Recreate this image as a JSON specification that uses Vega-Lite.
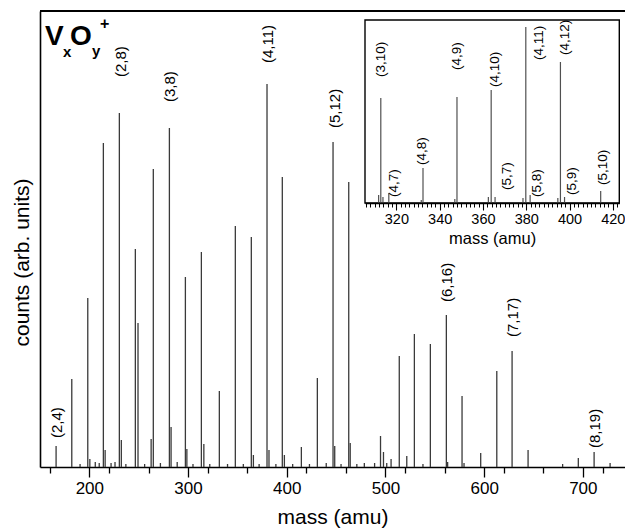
{
  "$schema": "https://vega.github.io/schema/vega-lite/v6.json",
  "autosize": {"type": "none"},
  "padding": {"left": 40, "top": 11, "right": 0, "bottom": 63},
  "width": 585,
  "height": 456,
  "background": "white",
  "config": {
    "font": "Liberation Sans",
    "view": {"stroke": null},
    "axis": {"grid": false, "labelColor": "black", "titleColor": "black", "domainColor": "black", "tickColor": "black", "titleFontWeight": "normal", "labelFont": "Liberation Sans", "titleFont": "Liberation Sans", "labelOverlap": false, "labelFlush": false}
  },
  "datasets": {
    "main": [
      {"mass": 166.3, "h": 21}, {"mass": 182.2, "h": 88}, {"mass": 190.6, "h": 3}, {"mass": 198.4, "h": 169},
      {"mass": 200.5, "h": 8}, {"mass": 206, "h": 5}, {"mass": 210, "h": 4}, {"mass": 214.2, "h": 324},
      {"mass": 216.0, "h": 17}, {"mass": 222, "h": 4}, {"mass": 226, "h": 5}, {"mass": 230.4, "h": 354},
      {"mass": 232.4, "h": 27}, {"mass": 237, "h": 3}, {"mass": 246.6, "h": 218}, {"mass": 249.3, "h": 144},
      {"mass": 256, "h": 3}, {"mass": 262.6, "h": 28}, {"mass": 264.8, "h": 298}, {"mass": 272, "h": 4},
      {"mass": 281.1, "h": 339}, {"mass": 282.8, "h": 40}, {"mass": 289, "h": 5}, {"mass": 297.3, "h": 190},
      {"mass": 298.8, "h": 18}, {"mass": 305, "h": 3}, {"mass": 313.5, "h": 215}, {"mass": 316.0, "h": 23},
      {"mass": 322, "h": 3}, {"mass": 331.7, "h": 76}, {"mass": 340, "h": 3}, {"mass": 347.9, "h": 241},
      {"mass": 356, "h": 3}, {"mass": 364.1, "h": 230}, {"mass": 366.2, "h": 12}, {"mass": 372, "h": 3},
      {"mass": 380.0, "h": 383}, {"mass": 382.0, "h": 17}, {"mass": 389, "h": 3}, {"mass": 395.5, "h": 290},
      {"mass": 397.6, "h": 12}, {"mass": 406, "h": 3}, {"mass": 414.8, "h": 20}, {"mass": 423, "h": 3},
      {"mass": 431.0, "h": 89}, {"mass": 440, "h": 4}, {"mass": 446.9, "h": 325}, {"mass": 448.6, "h": 21},
      {"mass": 455, "h": 3}, {"mass": 462.8, "h": 285}, {"mass": 464.3, "h": 24}, {"mass": 471, "h": 3},
      {"mass": 478.6, "h": 4}, {"mass": 489, "h": 4}, {"mass": 495.0, "h": 31}, {"mass": 498.0, "h": 15},
      {"mass": 501.3, "h": 4}, {"mass": 505.7, "h": 8}, {"mass": 514.0, "h": 111}, {"mass": 521.6, "h": 11},
      {"mass": 529.3, "h": 133}, {"mass": 538, "h": 3}, {"mass": 545.5, "h": 123}, {"mass": 561.7, "h": 152},
      {"mass": 563.0, "h": 5}, {"mass": 577.6, "h": 71}, {"mass": 579.6, "h": 4}, {"mass": 596.5, "h": 14},
      {"mass": 612.8, "h": 96}, {"mass": 628.3, "h": 116}, {"mass": 644.5, "h": 17}, {"mass": 679.5, "h": 3},
      {"mass": 695.4, "h": 9}, {"mass": 711.4, "h": 15}, {"mass": 727.6, "h": 4}
    ],
    "mainLabels": [
      {"label": "(2,4)", "mass": 167, "ly": 29},
      {"label": "(2,8)", "mass": 232.1, "ly": 390},
      {"label": "(3,8)", "mass": 281.8, "ly": 365},
      {"label": "(4,11)", "mass": 381, "ly": 404},
      {"label": "(5,12)", "mass": 449, "ly": 339},
      {"label": "(6,16)", "mass": 562.4, "ly": 165},
      {"label": "(7,17)", "mass": 628.8, "ly": 130},
      {"label": "(8,19)", "mass": 712.4, "ly": 19}
    ],
    "inset": [
      {"mass": 311.8, "h": 8}, {"mass": 312.8, "h": 105}, {"mass": 313.8, "h": 6}, {"mass": 316.5, "h": 10},
      {"mass": 331.5, "h": 3}, {"mass": 332.3, "h": 35}, {"mass": 347.0, "h": 4}, {"mass": 348.0, "h": 106},
      {"mass": 362.5, "h": 6}, {"mass": 363.8, "h": 113}, {"mass": 365.6, "h": 6}, {"mass": 378.5, "h": 5},
      {"mass": 379.8, "h": 176}, {"mass": 381.8, "h": 8}, {"mass": 394.6, "h": 5}, {"mass": 395.8, "h": 141},
      {"mass": 397.7, "h": 6}, {"mass": 414.4, "h": 12}
    ],
    "insetLabels": [
      {"label": "(3,10)", "mass": 313.0, "ly": 126},
      {"label": "(4,7)", "mass": 318.8, "ly": 6},
      {"label": "(4,8)", "mass": 331.8, "ly": 38},
      {"label": "(4,9)", "mass": 348.0, "ly": 133},
      {"label": "(4,10)", "mass": 365.5, "ly": 116},
      {"label": "(5,7)", "mass": 371.0, "ly": 13},
      {"label": "(4,11)", "mass": 385.8, "ly": 143},
      {"label": "(5,8)", "mass": 384.8, "ly": 6},
      {"label": "(4,12)", "mass": 397.7, "ly": 148},
      {"label": "(5,9)", "mass": 401.0, "ly": 8},
      {"label": "(5,10)", "mass": 415.3, "ly": 18}
    ]
  },
  "layer": [
    {
      "layer": [
        {
          "data": {"name": "main"},
          "mark": {"type": "rule", "color": "#3a3a3a", "strokeWidth": 1.3},
          "encoding": {
            "x": {"field": "mass", "type": "quantitative",
              "scale": {"domain": [150, 742.7], "nice": false, "zero": false},
              "axis": {"orient": "bottom", "title": "mass (amu)", "titleFontSize": 21, "labelFontSize": 17,
                "values": [200, 300, 400, 500, 600, 700],
                "tickSize": 10, "tickWidth": 1.3, "domainWidth": 1.6, "labelPadding": 3,
                "titleY": 50, "titleBaseline": "middle"}},
            "y": {"field": "h", "type": "quantitative",
              "scale": {"domain": [0, 456], "nice": false, "zero": false},
              "axis": {"orient": "left", "title": "counts (arb. units)", "titleFontSize": 21, "ticks": false, "labels": false,
                "domainWidth": 1.6, "titleX": -18, "titleY": 251, "titleBaseline": "middle"}},
            "y2": {"datum": 0}
          }
        },
        {
          "data": {"name": "main"},
          "mark": {"type": "rule", "color": "black", "strokeWidth": 1.6},
          "encoding": {"y": {"datum": 456}}
        },
        {
          "data": {"name": "mainLabels"},
          "mark": {"type": "text", "angle": 270, "align": "left", "baseline": "middle", "fontSize": 15, "font": "Liberation Sans", "color": "black"},
          "encoding": {
            "x": {"field": "mass", "type": "quantitative"},
            "y": {"field": "ly", "type": "quantitative"},
            "text": {"field": "label"}
          }
        }
      ]
    },
    {
      "layer": [
        {
          "data": {"values": [{"t": "V"}]},
          "mark": {"type": "text", "align": "left", "baseline": "alphabetic", "fontSize": 28, "fontWeight": "bold", "dx": 5, "dy": 34, "color": "black"},
          "encoding": {
            "x": {"datum": 150, "type": "quantitative",
              "scale": {"domain": [150, 742.7], "nice": false, "zero": false},
              "axis": {"orient": "bottom", "title": null, "labels": false, "domain": false,
                "values": [160,180,220,240,260,280,320,340,360,380,420,440,460,480,520,540,560,580,620,640,660,680,720,740],
                "tickSize": 6, "tickWidth": 1.3}},
            "y": {"datum": 456, "type": "quantitative", "scale": {"domain": [0, 456], "nice": false, "zero": false}, "axis": null},
            "text": {"value": "V"}
          }
        },
        {
          "data": {"values": [{"t": "x"}]},
          "mark": {"type": "text", "align": "left", "baseline": "alphabetic", "fontSize": 15, "fontWeight": "bold", "dx": 23, "dy": 46, "color": "black"},
          "encoding": {"x": {"datum": 150}, "y": {"datum": 456}, "text": {"value": "x"}}
        },
        {
          "data": {"values": [{"t": "O"}]},
          "mark": {"type": "text", "align": "left", "baseline": "alphabetic", "fontSize": 28, "fontWeight": "bold", "dx": 30, "dy": 34, "color": "black"},
          "encoding": {"x": {"datum": 150}, "y": {"datum": 456}, "text": {"value": "O"}}
        },
        {
          "data": {"values": [{"t": "y"}]},
          "mark": {"type": "text", "align": "left", "baseline": "alphabetic", "fontSize": 15, "fontWeight": "bold", "dx": 52, "dy": 45, "color": "black"},
          "encoding": {"x": {"datum": 150}, "y": {"datum": 456}, "text": {"value": "y"}}
        },
        {
          "data": {"values": [{"t": "+"}]},
          "mark": {"type": "text", "align": "left", "baseline": "alphabetic", "fontSize": 16, "fontWeight": "bold", "dx": 60, "dy": 18, "color": "black"},
          "encoding": {"x": {"datum": 150}, "y": {"datum": 456}, "text": {"value": "+"}}
        }
      ]
    },
    {
      "layer": [
        {
          "data": {"values": [{"f": 1}]},
          "mark": {"type": "rect", "fill": "white", "stroke": "black", "strokeWidth": 1.4},
          "encoding": {
            "x": {"datum": 305.5, "type": "quantitative",
              "scale": {"domain": [305.5, 423], "range": [325, 579.3], "nice": false, "zero": false},
              "axis": {"orient": "bottom", "offset": -264, "zindex": 2, "title": "mass (amu)", "titleFontSize": 16.5, "labelFontSize": 14.5,
                "values": [320, 340, 360, 380, 400, 420],
                "tickSize": 7, "tickWidth": 1.1, "domainWidth": 1.4, "labelPadding": 2,
                "titleY": 35, "titleBaseline": "middle"}},
            "x2": {"datum": 423},
            "y": {"datum": 0, "type": "quantitative",
              "scale": {"domain": [0, 183], "range": [192, 9], "nice": false, "zero": false},
              "axis": null},
            "y2": {"datum": 183}
          }
        },
        {
          "data": {"name": "inset"},
          "mark": {"type": "rule", "color": "#505050", "strokeWidth": 1.2},
          "encoding": {
            "x": {"field": "mass", "type": "quantitative"},
            "y": {"field": "h", "type": "quantitative"},
            "y2": {"datum": 0}
          }
        }
      ]
    },
    {
      "data": {"name": "insetLabels"},
      "mark": {"type": "text", "angle": 270, "align": "left", "baseline": "middle", "fontSize": 13.5, "font": "Liberation Sans", "color": "black"},
      "encoding": {
        "x": {"field": "mass", "type": "quantitative",
          "scale": {"domain": [305.5, 423], "range": [325, 579.3], "nice": false, "zero": false},
          "axis": {"orient": "bottom", "offset": -264, "zindex": 2, "title": null, "labels": false, "domain": false,
            "values": [306,308,310,312,314,316,318,322,324,326,328,330,332,334,336,338,342,344,346,348,350,352,354,356,358,362,364,366,368,370,372,374,376,378,382,384,386,388,390,392,394,396,398,402,404,406,408,410,412,414,416,418,422],
            "tickSize": 4, "tickWidth": 1}},
        "y": {"field": "ly", "type": "quantitative",
          "scale": {"domain": [0, 183], "range": [192, 9], "nice": false, "zero": false},
          "axis": null},
        "text": {"field": "label"}
      }
    }
  ],
  "resolve": {"scale": {"x": "independent", "y": "independent"}, "axis": {"x": "independent", "y": "independent"}}
}
